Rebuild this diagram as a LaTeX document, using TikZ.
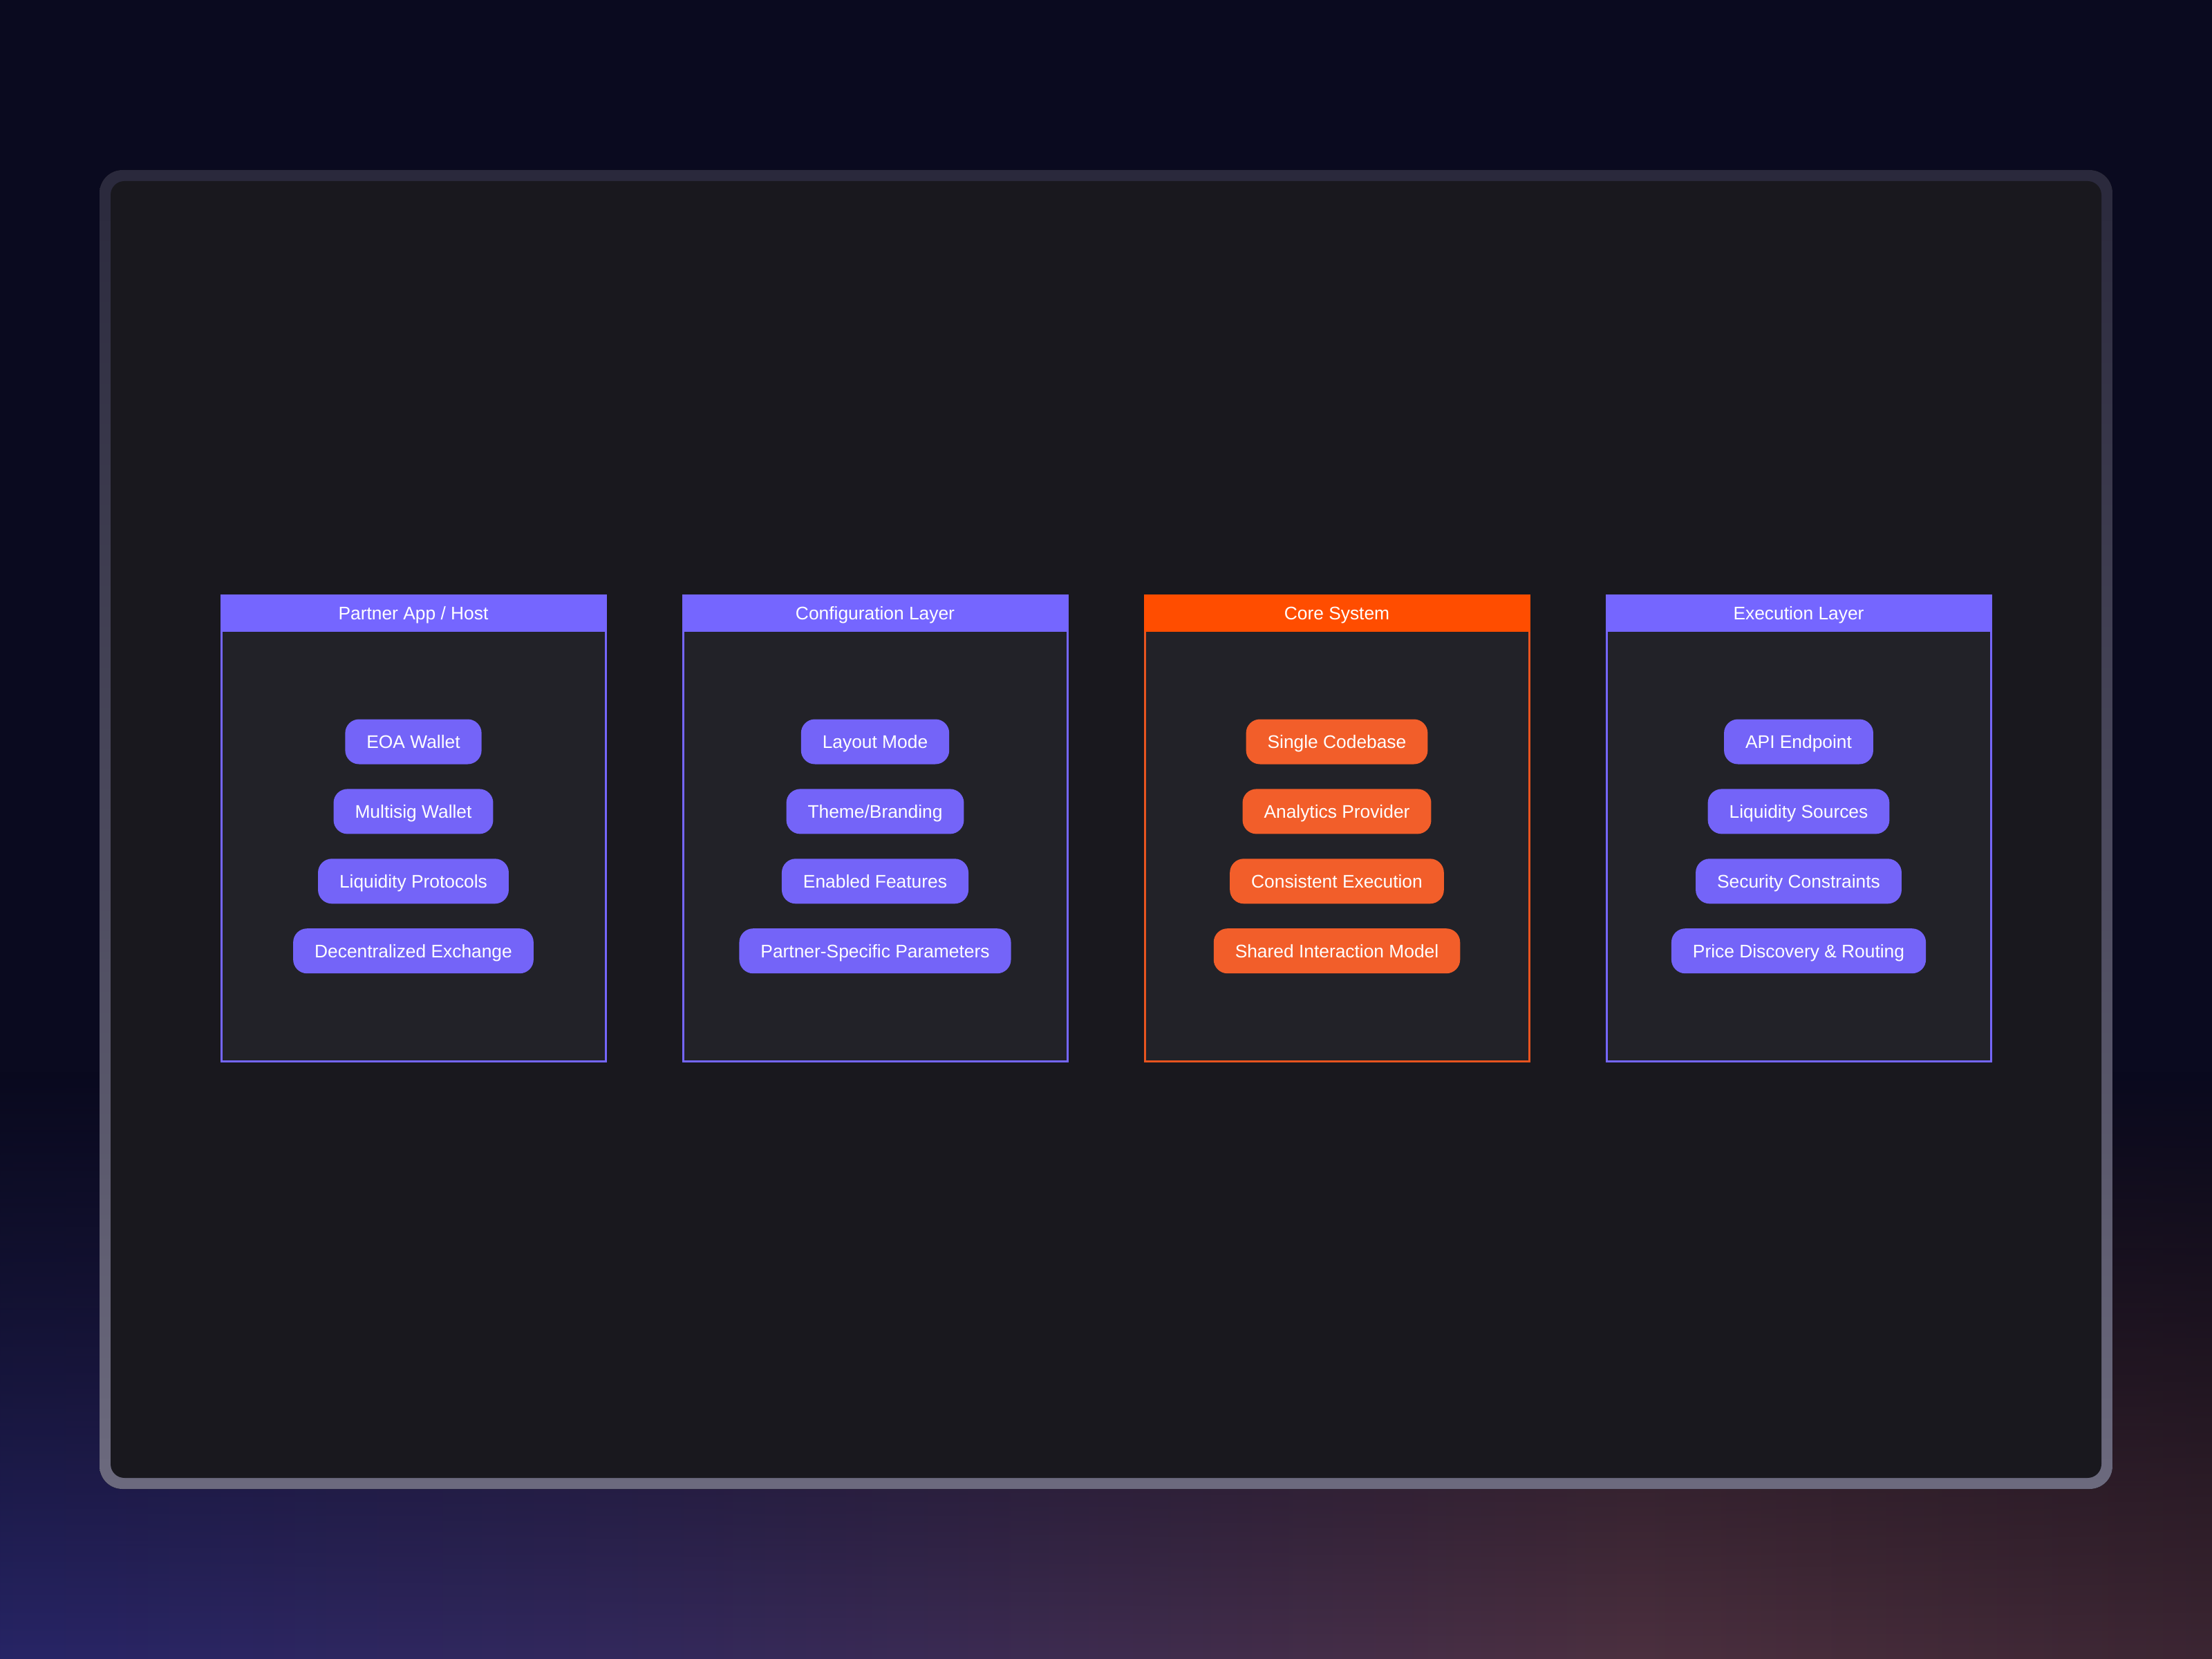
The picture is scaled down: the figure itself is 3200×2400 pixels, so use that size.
\documentclass[tikz,border=0pt]{standalone}
\usepackage{fontspec}
\setmainfont{Liberation Sans}
\usepackage{tikz}
\usetikzlibrary{positioning,fadings}

\definecolor{bgnavy}{HTML}{0A0A1F}
\definecolor{frameedge}{HTML}{2A293C}
\definecolor{frameedgelow}{HTML}{6C6A7E}
\definecolor{framefill}{HTML}{19181E}
\definecolor{panelfill}{HTML}{222228}
\definecolor{violet}{HTML}{7566FF}
\definecolor{violetpill}{HTML}{7464F8}
\definecolor{blaze}{HTML}{FF4D00}
\definecolor{blazepill}{HTML}{F25E2A}
\definecolor{blazeedge}{HTML}{E8541F}
\definecolor{glowa}{HTML}{1C1D5E}
\definecolor{glowb}{HTML}{23236A}
\definecolor{glowc}{HTML}{34295C}
\definecolor{glowd}{HTML}{4C3040}
\definecolor{glowe}{HTML}{33202C}
\definecolor{glowf}{HTML}{16121F}
\pgfdeclarehorizontalshading{floorglow}{100bp}{color(0bp)=(glowa); color(20bp)=(glowb);
  color(40bp)=(glowc); color(62bp)=(glowd); color(82bp)=(glowe); color(100bp)=(glowf)}

\begin{document}
\begin{tikzpicture}[x=0.1mm,y=-0.1mm,
    panelbox/.style={draw=violet,line width=0.3mm,fill=panelfill,minimum width=55.6mm,minimum height=67.4mm,inner sep=0pt},
    headbar/.style={fill=violet,text=white,font=\fontsize{7.5}{9}\selectfont,minimum width=55.9mm,minimum height=5.4mm,
      text height=1.9mm,text depth=0pt,inner sep=0pt,anchor=north},
    pill/.style={fill=violetpill,text=white,font=\fontsize{7.5}{9}\selectfont,rounded corners=2mm,minimum height=6.5mm,
      text height=1.9mm,text depth=0pt,inner ysep=0pt,inner xsep=3.1mm},
    coreedge/.style={draw=blazeedge},
    corehead/.style={fill=blaze},
    corepill/.style={fill=blazepill}]
  \useasboundingbox (0,0) rectangle (3200,2400);
  % backdrop
  \fill[bgnavy] (0,0) rectangle (3200,2400);
  \fill[shading=floorglow,path fading=north] (0,1550) rectangle (3200,2400);
  % outer frame
  \fill[rounded corners=3.3mm,top color=frameedge,bottom color=frameedgelow] (144,246) rectangle (3056,2154);
  \fill[framefill,rounded corners=2mm] (160,262) rectangle (3040,2138);

  % partner app / host
  \node[panelbox] (host) at (598,1198) {};
  \node[headbar] (hosthead) at (host.north) {Partner App / Host};
  \node[pill] (eoa) at (598,1073) {EOA Wallet};
  \node[pill,below=3.45mm of eoa] (multisig) {Multisig Wallet};
  \node[pill,below=3.45mm of multisig] (liqproto) {Liquidity Protocols};
  \node[pill,below=3.45mm of liqproto] (dex) {Decentralized Exchange};

  % configuration layer
  \node[panelbox] (config) at (1266,1198) {};
  \node[headbar] (confighead) at (config.north) {Configuration Layer};
  \node[pill] (layout) at (1266,1073) {Layout Mode};
  \node[pill,below=3.45mm of layout] (theme) {Theme/Branding};
  \node[pill,below=3.45mm of theme] (features) {Enabled Features};
  \node[pill,below=3.45mm of features] (params) {Partner-Specific Parameters};

  % core system
  \node[panelbox,coreedge] (core) at (1934,1198) {};
  \node[headbar,corehead] (corehead) at (core.north) {Core System};
  \node[pill,corepill] (codebase) at (1934,1073) {Single Codebase};
  \node[pill,corepill,below=3.45mm of codebase] (analytics) {Analytics Provider};
  \node[pill,corepill,below=3.45mm of analytics] (consistent) {Consistent Execution};
  \node[pill,corepill,below=3.45mm of consistent] (shared) {Shared Interaction Model};

  % execution layer
  \node[panelbox] (exec) at (2602,1198) {};
  \node[headbar] (exechead) at (exec.north) {Execution Layer};
  \node[pill] (api) at (2602,1073) {API Endpoint};
  \node[pill,below=3.45mm of api] (liqsrc) {Liquidity Sources};
  \node[pill,below=3.45mm of liqsrc] (security) {Security Constraints};
  \node[pill,below=3.45mm of security] (routing) {Price Discovery \& Routing};
\end{tikzpicture}
\end{document}
